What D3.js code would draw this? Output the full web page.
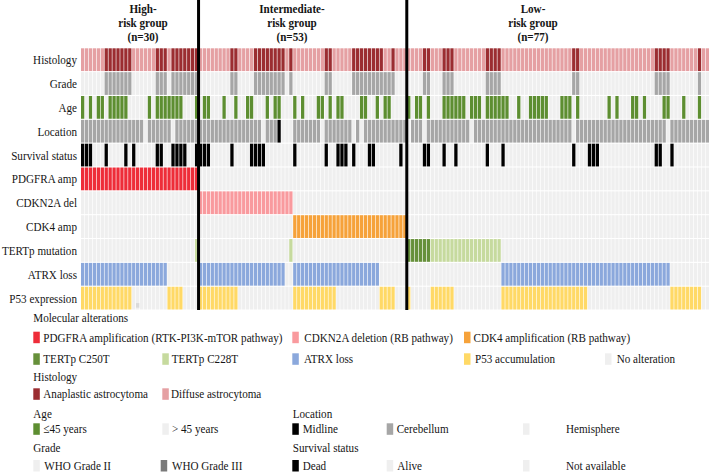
<!DOCTYPE html>
<html>
<head>
<meta charset="utf-8">
<script src="https://cdnjs.cloudflare.com/ajax/libs/d3/7.8.5/d3.min.js"></script>
<style>
  body { margin: 0; background: #fff; }
  svg { display: block; font-family: "Liberation Serif", "Times New Roman", serif; }
</style>
</head>
<body>
<div id="canvas"></div>
<script>
// samples are ordered: 30 high-risk, 53 intermediate-risk, 77 low-risk
var groupSizes = [30, 53, 77];
var groupTitles = [
  ["High-", "risk group", "(n=30)"],
  ["Intermediate-", "risk group", "(n=53)"],
  ["Low-", "risk group", "(n=77)"]
];

var rowNames = ["Histology", "Grade", "Age", "Location", "Survival status",
  "PDGFRA amp", "CDKN2A del", "CDK4 amp", "TERTp mutation", "ATRX loss", "P53 expression"];

// one code per sample, blocks of 10 split by spaces, one string per group
// D diffuse / A anaplastic
var histology = [
  "DDDDDDAAAA AAADDDDDDA AADAAAAAAA",
  "DDDDDDDDAA DDDDAAAAAA AADADDDDDD DDAADDDDDA AAAAAAADDA DDD",
  "DDDDAADDDA AADDDDDDDD AAAADDDDDD DDDDDDDDDD DDAADDDDDD DDDDDDDDDD DDDAAAADDD DDDDADD"
];
// 2 WHO grade II / 3 WHO grade III
var grade = [
  "2222223333 3332222223 3323333333",
  "2222222233 2222333333 3323222222 2233222223 3333333333 222",
  "2222332223 3322222222 3333222222 2222222222 2233222222 2222222222 2223333222 2222322"
];
// Y <=45 years / O >45 years
var age = [
  "YOYOYYOYYY YYOOOOOYOY YYYYYYOOOY",
  "OYYOOOYOOY OOYYOOOYOY YOOOYOYOOO YYOYOYYOOO OYYOOYOYYO OOO",
  "YOYYOYOOOY YYYYYOYYYO YYYYYYOOYO OYYYYYOOOY YYOYOOOOOO OYOYOOOYYO YOOOOYYOOO YOOOYOO"
];
// M midline / C cerebellum / H hemisphere
var location_ = [
  "CCCCCCCCCC CCCCCCHCCC CCCHCCCCCC",
  "CCCCCCCCCC CCCCCCHCCC MHHHCCCCCC CHCCCCCCCH CHCCCCCCCC CCC",
  "HCCCHCCCCC CCCCCCHCCC CCCCCCCCCC CCCCCCCCCC CCHCCCCCCC CCCCCCCCCC CCCCCCHCCC CCCCCCC"
];
// X dead / A alive
var survival = [
  "XXXAAAXAAA AXAXAAAAAX XAAXXXXAAX",
  "XXXAAAAAXA AAAXXXXAAA AAAAXAAAAA AAXAAXXXAX AAAXXAAAAA AXA",
  "AAAAXXAAAX AAXAAAAAAA XAAAXAAAAA AAAAAAAAAA AAXAAAXXXA AAAAAAAAAA AAAXXAAXAA AAAAAAA"
];
// 1 altered / 0 no alteration
var pdgfra = [
  "1111111111 1111111111 1111111111",
  "0000000000 0000000000 0000000000 0000000000 0000000000 000",
  "0000000000 0000000000 0000000000 0000000000 0000000000 0000000000 0000000000 0000000"
];
var cdkn2a = [
  "0000000000 0000000000 0000000000",
  "1111111111 1111111111 1111000000 0000000000 0000000000 000",
  "0000000000 0000000000 0000000000 0000000000 0000000000 0000000000 0000000000 0000000"
];
var cdk4 = [
  "0000000000 0000000000 0000000000",
  "0000000000 0000000000 0000111111 1111111111 1111111111 111",
  "0000000000 0000000000 0000000000 0000000000 0000000000 0000000000 0000000000 0000000"
];
// G C250T / T C228T
var tert = [
  "0000000000 0000000000 000000000T",
  "0000000000 0000000000 000T000000 0000000000 0000000000 000",
  "GGGGGGTTTT TTTTTTTTTT TTTT000000 0000000000 0000000000 0000000000 0000000000 0000000"
];
var atrx = [
  "1111111111 1111111111 1100000000",
  "1111111111 1111111111 1100111111 1111111111 1111110000 000",
  "0000000000 0000000000 0000111111 1111111111 1111111111 1111111111 1111111000 0000000"
];
// 1 accumulation / 0 none / N not available
var p53 = [
  "1111111111 1110N00000 0011110000",
  "1111111111 0000000000 0000111111 1111100000 0000001111 000",
  "1000001111 1100000000 0000111111 1111111111 1111110000 0000000000 0000000111 1111100"
];

var legendMolecular = ["PDGFRA amplification (RTK-PI3K-mTOR pathway)", "CDKN2A deletion (RB pathway)",
  "CDK4 amplification (RB pathway)", "TERTp C250T", "TERTp C228T", "ATRX loss", "P53 accumulation", "No alteration"];
var legendHistology = ["Anaplastic astrocytoma", "Diffuse astrocytoma"];
var legendAge = ["\u226445 years", "> 45 years"];
var legendLocation = ["Midline", "Cerebellum", "Hemisphere"];
var legendGrade = ["WHO Grade II", "WHO Grade III"];
var legendSurvival = ["Dead", "Alive", "Not available"];

// colours
var NONE = "#efefef";
var colors = {
  histology: {D: "#e5a0a3", A: "#9b2d31"},
  grade: {"2": NONE, "3": "#a6a6a6"},
  age: {Y: "#5d8e31", O: NONE},
  location: {M: "#000", C: "#a6a6a6", H: NONE},
  survival: {X: "#000", A: NONE},
  pdgfra: {"1": "#ee2d39", "0": NONE},
  cdkn2a: {"1": "#f99a9e", "0": NONE},
  cdk4: {"1": "#f6a23a", "0": NONE},
  tert: {G: "#66903a", T: "#c6da9e", "0": NONE},
  atrx: {"1": "#8ba8dc", "0": NONE},
  p53: {"1": "#ffd966", "0": NONE, N: NONE}
};

function seq(parts) { return parts.join("").replace(/ /g, "").split(""); }

var rows = [
  {name: rowNames[0], codes: seq(histology), fill: colors.histology},
  {name: rowNames[1], codes: seq(grade), fill: colors.grade},
  {name: rowNames[2], codes: seq(age), fill: colors.age},
  {name: rowNames[3], codes: seq(location_), fill: colors.location},
  {name: rowNames[4], codes: seq(survival), fill: colors.survival},
  {name: rowNames[5], codes: seq(pdgfra), fill: colors.pdgfra},
  {name: rowNames[6], codes: seq(cdkn2a), fill: colors.cdkn2a},
  {name: rowNames[7], codes: seq(cdk4), fill: colors.cdk4},
  {name: rowNames[8], codes: seq(tert), fill: colors.tert},
  {name: rowNames[9], codes: seq(atrx), fill: colors.atrx},
  {name: rowNames[10], codes: seq(p53), fill: colors.p53}
];
rows.forEach(function(r){ if (r.codes.length !== 160) console.log("bad length", r.name, r.codes.length); });

var width = 709, height = 472;
var sx = 0.856;       // the figure's text is horizontally condensed
var ink = "#151515";

var svg = d3.select("#canvas").append("svg")
  .attr("width", width)
  .attr("height", height);

var nSamples = d3.sum(groupSizes);
var x = d3.scaleBand().domain(d3.range(nSamples)).range([81, 709]).paddingInner(0.16);
var y = d3.scaleBand().domain(rowNames).range([48.3, 309.5]).paddingInner(0.045);

function label(parent, px, py, str, anchor, bold) {
  parent.append("g")
    .attr("transform", "translate(" + px + "," + py + ") scale(" + sx + ",1)")
    .append("text")
    .attr("text-anchor", anchor || "start")
    .attr("font-size", 13)
    .attr("font-weight", bold ? "bold" : null)
    .attr("fill", ink)
    .text(str);
}

// heatmap cells
var grid = svg.append("g");
rows.forEach(function(r){
  var g = grid.append("g");
  g.selectAll("rect")
    .data(r.codes)
    .join("rect")
    .attr("x", function(d, i){ return x(i); })
    .attr("y", y(r.name))
    .attr("width", x.bandwidth())
    .attr("height", y.bandwidth())
    .attr("fill", function(d){ return r.fill[d]; });
  // not-available marks
  g.selectAll("rect.na")
    .data(r.codes.map(function(d, i){ return {d: d, i: i}; }).filter(function(o){ return o.d === "N"; }))
    .join("rect")
    .attr("class", "na")
    .attr("x", function(o){ return x(o.i); })
    .attr("y", y(r.name) + y.bandwidth() * 0.72)
    .attr("width", x.bandwidth())
    .attr("height", y.bandwidth() * 0.2)
    .attr("fill", "#dadada");
  label(svg, 77, y(r.name) + y.bandwidth() / 2 + 4.5, r.name, "end");
});

// group separators and titles
var bounds = d3.cumsum(groupSizes);
var sepX = [bounds[0], bounds[1]].map(function(b){ return (x(b - 1) + x.bandwidth() + x(b)) / 2; });
svg.selectAll("line.sep")
  .data(sepX)
  .join("line")
  .attr("class", "sep")
  .attr("x1", function(d){ return d; })
  .attr("x2", function(d){ return d; })
  .attr("y1", 0)
  .attr("y2", 310)
  .attr("stroke", "#000")
  .attr("stroke-width", 3);

var titleX = [143, 292, 533];
groupTitles.forEach(function(lines, gi){
  lines.forEach(function(t, li){
    label(svg, titleX[gi], 12.5 + li * 14, t, "middle", true);
  });
});

// legend
var lg = svg.append("g");
var headers = [
  ["Molecular alterations", 33.3, 322.3],
  ["Histology", 33.3, 380.5],
  ["Age", 33.3, 417.5],
  ["Location", 292.7, 417.5],
  ["Grade", 33.3, 452.3],
  ["Survival status", 292.7, 452.3]
];
headers.forEach(function(h){ label(lg, h[1], h[2], h[0]); });

// [label, colour, swatch x, text x, baseline]
var items = [
  [legendMolecular[0], colors.pdgfra["1"], 33.3, 43.3, 341.7],
  [legendMolecular[1], colors.cdkn2a["1"], 292.3, 304.3, 341.7],
  [legendMolecular[2], colors.cdk4["1"], 464, 473.5, 341.7],
  [legendMolecular[3], colors.tert.G, 33.3, 43.3, 363.3],
  [legendMolecular[4], colors.tert.T, 162.3, 171.7, 363.3],
  [legendMolecular[5], colors.atrx["1"], 292.3, 304, 363.3],
  [legendMolecular[6], colors.p53["1"], 464, 475, 363.3],
  [legendMolecular[7], NONE, 605, 616.7, 363.3],
  [legendHistology[0], colors.histology.A, 33.3, 43.3, 398.3],
  [legendHistology[1], colors.histology.D, 162.3, 171, 398.3],
  [legendAge[0], colors.age.Y, 33.3, 43.3, 433.3],
  [legendAge[1], NONE, 162.3, 172, 433.3],
  [legendLocation[0], colors.location.M, 292.3, 302.7, 433.3],
  [legendLocation[1], colors.location.C, 386.7, 396.7, 433.3],
  [legendLocation[2], NONE, 523, 566, 433.3],
  [legendGrade[0], NONE, 33.3, 44.3, 470],
  [legendGrade[1], "#7a7a7a", 160.7, 172, 470],
  [legendSurvival[0], colors.survival.X, 292.3, 302.7, 470],
  [legendSurvival[1], NONE, 386.7, 397.3, 470],
  [legendSurvival[2], NONE, 523, 566, 470]
];
lg.selectAll("rect")
  .data(items)
  .join("rect")
  .attr("x", function(d){ return d[2]; })
  .attr("y", function(d){ return d[4] - 10; })
  .attr("width", 6.5)
  .attr("height", 11.5)
  .attr("fill", function(d){ return d[1]; });
items.forEach(function(d){ label(lg, d[3], d[4], d[0]); });
</script>
</body>
</html>
